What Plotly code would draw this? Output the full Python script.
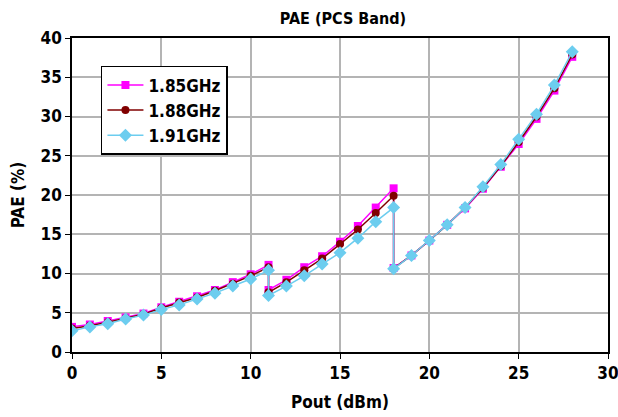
import plotly.graph_objects as go

# Output power sweep (dBm); repeated points mark the bias-mode switch-over
pout = [0, 1, 2, 3, 4, 5, 6, 7, 8, 9, 10, 11, 11, 12, 13, 14, 15, 16, 17, 18, 18,
        19, 20, 21, 22, 23, 24, 25, 26, 27, 28]

pae_185 = [3.2, 3.5, 3.95, 4.4, 4.9, 5.7, 6.4, 7.1, 7.9, 8.9, 9.9, 11.1, 7.9, 9.2,
           10.8, 12.2, 14.05, 16.05, 18.4, 20.85, 10.7, 12.3, 14.2, 16.2, 18.3, 20.8,
           23.6, 26.5, 29.7, 33.3, 37.6]
pae_188 = [3.0, 3.35, 3.8, 4.3, 4.8, 5.6, 6.3, 6.95, 7.8, 8.7, 9.7, 10.8, 7.6, 8.9,
           10.4, 11.9, 13.75, 15.6, 17.7, 19.9, 10.65, 12.3, 14.2, 16.2, 18.4, 20.9,
           23.7, 26.75, 30.0, 33.6, 37.9]
pae_191 = [2.7, 3.2, 3.6, 4.2, 4.7, 5.4, 6.0, 6.75, 7.5, 8.4, 9.3, 10.4, 7.2, 8.4,
           9.7, 11.2, 12.65, 14.5, 16.6, 18.4, 10.6, 12.3, 14.2, 16.2, 18.4, 21.05,
           23.9, 27.1, 30.3, 34.0, 38.25]

series = [
    ("1.85GHz", pae_185, "#FF00FF", "square", 8),
    ("1.88GHz", pae_188, "#800000", "circle", 8),
    ("1.91GHz", pae_191, "#6CCDEF", "diamond", 10),
]

FONT = "DejaVu Sans Condensed, Liberation Sans Narrow, sans-serif"

fig = go.Figure()
for name, vals, color, sym, size in series:
    fig.add_trace(go.Scatter(
        x=pout, y=vals, name=name, mode="lines+markers",
        line=dict(color=color, width=1.5),
        marker=dict(symbol=sym, size=size, color=color),
    ))

axis_common = dict(
    showgrid=True, gridcolor="#B4B4B4", gridwidth=1.5,
    showline=True, linecolor="black", linewidth=1.5, mirror=True,
    ticks="outside", ticklen=5, tickcolor="black", tickwidth=1,
    zeroline=False, automargin=False, ticklabeloverflow="allow",
    tickfont=dict(family=FONT, size=17, color="black", weight="bold"),
)

fig.update_layout(
    width=618, height=417,
    margin=dict(l=72, r=10, t=38, b=65),
    paper_bgcolor="white", plot_bgcolor="white",
    font=dict(family=FONT, color="black"),
    title=dict(text="<b>PAE (PCS Band)</b>", x=0.555, xanchor="center",
               y=0.955, yanchor="middle",
               font=dict(family=FONT, size=16, color="black")),
    xaxis=dict(range=[0, 30], dtick=5,
               title=dict(text="<b>Pout (dBm)</b>", standoff=14,
                          font=dict(family=FONT, size=17, color="black")),
               **axis_common),
    yaxis=dict(range=[0, 40], dtick=5,
               title=dict(text="<b>PAE (%)</b>", standoff=12,
                          font=dict(family=FONT, size=17, color="black")),
               **axis_common),
    legend=dict(x=0.054, y=0.911, xanchor="left", yanchor="top",
                bgcolor="white", bordercolor="black", borderwidth=1.5,
                font=dict(family=FONT, size=17, color="black", weight="bold"),
                itemwidth=36, tracegroupgap=0),
    showlegend=True,
)

fig.write_html("out.html")
